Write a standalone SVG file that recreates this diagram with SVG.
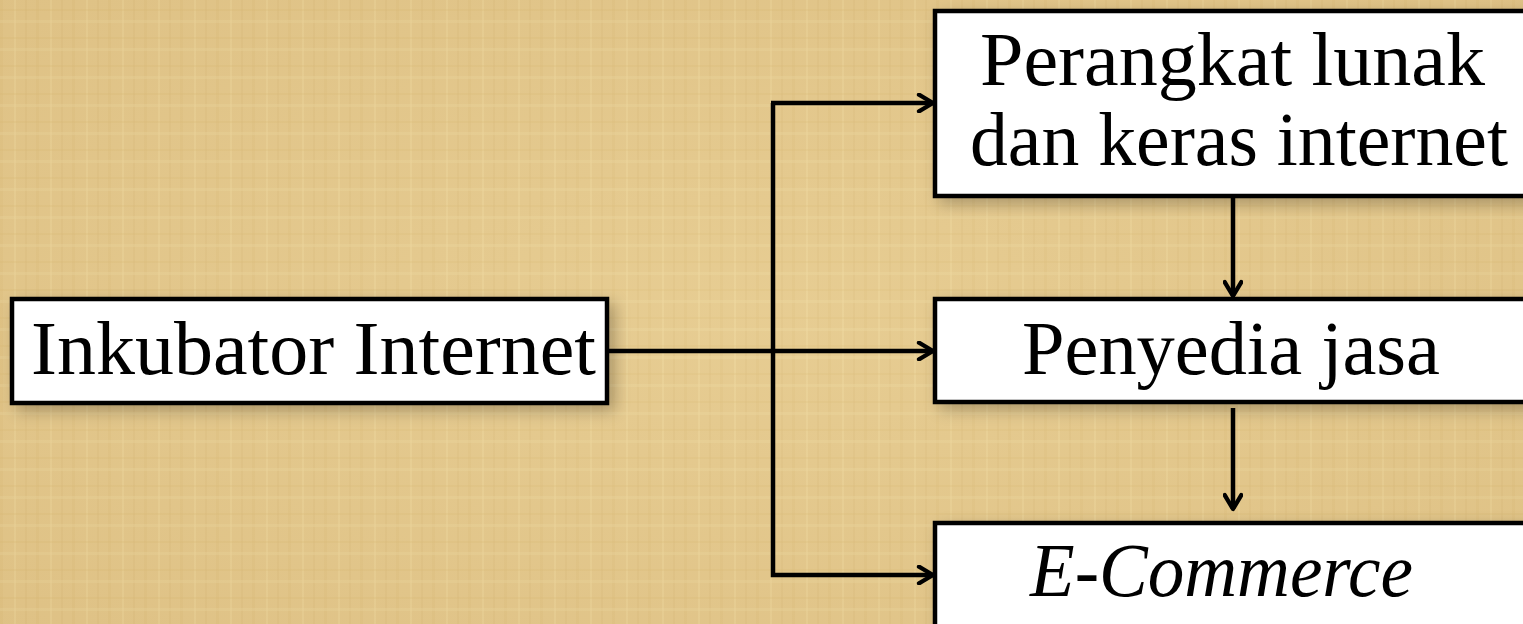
<svg xmlns="http://www.w3.org/2000/svg" width="1523" height="624" viewBox="0 0 1523 624">
<defs>
<style>
.box{fill:#ffffff;stroke:#000000;stroke-width:4.5}
.txt{font-family:"Liberation Serif","Times New Roman",serif;font-size:76px;fill:#000000}
.con{fill:none;stroke:#000000;stroke-width:4.5}
</style>
<marker id="arr" viewBox="0 0 20 20" refX="17.5" refY="10" markerWidth="4.6" markerHeight="4.6" markerUnits="strokeWidth" orient="auto">
<path d="M4,2 L17.5,10 L4,18" fill="none" stroke="#000" stroke-width="4.2" stroke-linecap="round" stroke-linejoin="round"/>
</marker>
<pattern id="weave" width="36" height="28" patternUnits="userSpaceOnUse">
<rect width="36" height="28" fill="#e4c98e"/>
<rect x="0" y="0" width="3" height="28" fill="#d6b778" opacity="0.25"/>
<rect x="14" y="0" width="2" height="28" fill="#f0dba6" opacity="0.4"/>
<rect x="25" y="0" width="2" height="28" fill="#d2b06e" opacity="0.2"/>
<rect x="0" y="9" width="36" height="2" fill="#d6b775" opacity="0.25"/>
<rect x="0" y="20" width="36" height="3" fill="#eed8a2" opacity="0.35"/>
</pattern>
<radialGradient id="vign" cx="50%" cy="50%" r="70%">
<stop offset="0" stop-color="#f3dca4" stop-opacity="0.2"/>
<stop offset="1" stop-color="#c9a463" stop-opacity="0.2"/>
</radialGradient>
<filter id="sh" x="-5%" y="-15%" width="115%" height="140%">
<feGaussianBlur in="SourceAlpha" stdDeviation="8"/>
<feOffset dx="6" dy="6"/>
<feComponentTransfer><feFuncA type="linear" slope="0.25"/></feComponentTransfer>
<feMerge><feMergeNode/><feMergeNode in="SourceGraphic"/></feMerge>
</filter>
</defs>
<rect width="1523" height="624" fill="url(#weave)"/>
<rect width="1523" height="624" fill="url(#vign)"/>
<g id="connectors">
<line class="con" x1="608" y1="351" x2="933" y2="351" marker-end="url(#arr)"/>
<polyline class="con" points="773,103 773,575 933,575" marker-end="url(#arr)"/>
<line class="con" x1="771" y1="103" x2="933" y2="103" marker-end="url(#arr)"/>
<line class="con" x1="1233" y1="197" x2="1233" y2="296" marker-end="url(#arr)"/>
<line class="con" x1="1233" y1="408" x2="1233" y2="509" marker-end="url(#arr)"/>
</g>
<g id="node-inkubator" filter="url(#sh)">
<rect class="box" x="12" y="299" width="595" height="104"/>
<text class="txt" x="31" y="374" textLength="565" lengthAdjust="spacingAndGlyphs">Inkubator Internet</text>
</g>
<g id="node-perangkat" filter="url(#sh)">
<rect class="box" x="935" y="11" width="600" height="185"/>
<text class="txt" x="980" y="85" textLength="505" lengthAdjust="spacingAndGlyphs">Perangkat lunak</text>
<text class="txt" x="970" y="165" textLength="538" lengthAdjust="spacingAndGlyphs">dan keras internet</text>
</g>
<g id="node-penyedia" filter="url(#sh)">
<rect class="box" x="935" y="299" width="600" height="103"/>
<text class="txt" x="1022" y="374" textLength="418" lengthAdjust="spacingAndGlyphs">Penyedia jasa</text>
</g>
<g id="node-ecommerce" filter="url(#sh)">
<rect class="box" x="935" y="523" width="600" height="120"/>
<text class="txt" x="1030" y="596" font-style="italic" textLength="383" lengthAdjust="spacingAndGlyphs">E-Commerce</text>
</g>
</svg>
